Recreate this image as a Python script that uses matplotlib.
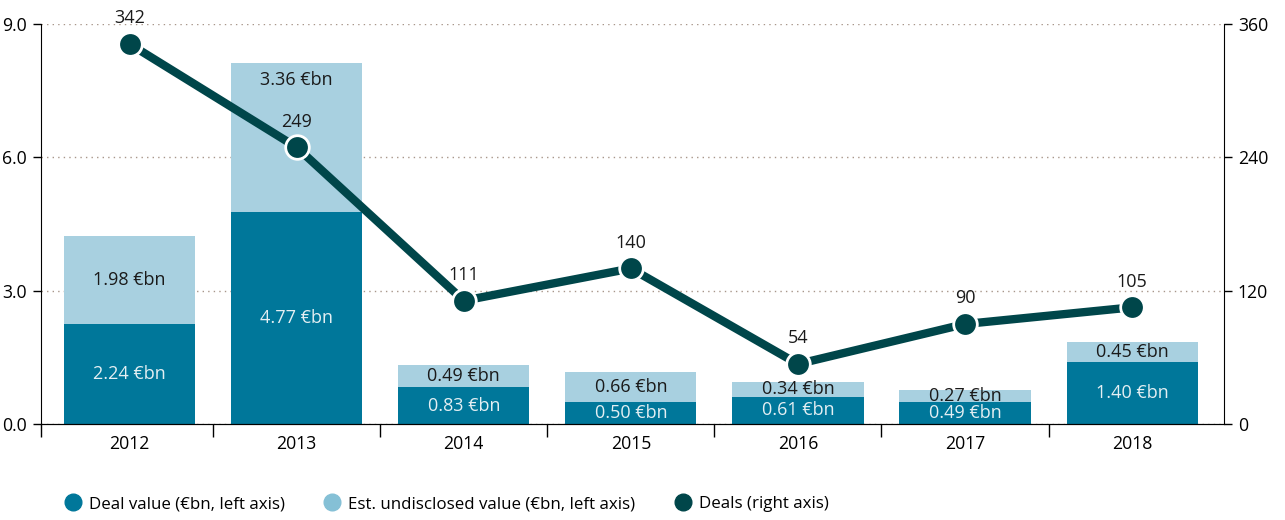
import matplotlib.pyplot as plt
import numpy as np
from matplotlib.lines import Line2D

plt.rcParams['font.family'] = ['Open Sans', 'DejaVu Sans']
plt.rcParams['font.size'] = 12.7

years = ['2012', '2013', '2014', '2015', '2016', '2017', '2018']
deal_value = [2.24, 4.77, 0.83, 0.50, 0.61, 0.49, 1.40]
undisclosed = [1.98, 3.36, 0.49, 0.66, 0.34, 0.27, 0.45]
deals = [342, 249, 111, 140, 54, 90, 105]

c_dark = '#00779a'
c_light = '#a8d0e0'
c_line = '#00464a'

fig = plt.figure(figsize=(12.85, 5.2), dpi=100)
ax = fig.add_axes([0.032, 0.1846, 0.9205, 0.7692])
x = np.arange(len(years))

ax.bar(x, deal_value, width=0.785, color=c_dark, zorder=2)
ax.bar(x, undisclosed, width=0.785, bottom=deal_value, color=c_light, zorder=2)

# 柱内数值标注
for i in range(len(years)):
    d = deal_value[i]
    u = undisclosed[i]
    ax.text(x[i], d / 2, '%.2f €bn' % d, ha='center', va='center',
            color='#e4eff3', fontsize=13, zorder=3)
    yu = d + u / 2
    if i == 1:
        yu = d + u - 0.4
    ax.text(x[i], yu, '%.2f €bn' % u, ha='center', va='center',
            color='#1a1a1a', fontsize=13, zorder=3)

ax.set_xlim(-0.53, 6.55)
ax.set_ylim(0, 9)
ax.set_yticks([0, 3, 6, 9])
ax.set_yticklabels(['0.0', '3.0', '6.0', '9.0'])
ax.set_xticks(x)
ax.set_xticklabels(years)
ax.set_xticks([-0.53] + list(x[:-1] + 0.5), minor=True)
ax.tick_params(axis='x', which='major', length=0, pad=8)
ax.tick_params(axis='x', which='minor', length=9, width=1)
ax.tick_params(axis='y', length=6, width=1, pad=4)
ax.yaxis.grid(True, linestyle=(0, (1, 3)), color='#a8968a', linewidth=1, zorder=0)
ax.set_axisbelow(True)
ax.spines['top'].set_visible(False)
ax.spines['right'].set_visible(False)

# 右轴：交易数量
ax2 = ax.twinx()
ax2.plot(x, deals, color=c_line, linewidth=6, marker='o', markersize=17,
         markerfacecolor=c_line, markeredgecolor='white', markeredgewidth=2,
         solid_capstyle='butt', zorder=5)
for i in range(len(years)):
    ax2.annotate(str(deals[i]), xy=(x[i], deals[i]), xytext=(0, 12),
                 textcoords='offset points', ha='center', va='bottom',
                 fontsize=13, color='#1a1a1a')
ax2.set_ylim(0, 360)
ax2.set_yticks([0, 120, 240, 360])
ax2.tick_params(axis='y', length=6, width=1, pad=4)
ax2.spines['top'].set_visible(False)
ax2.spines['left'].set_visible(False)

handles = [
    Line2D([], [], linestyle='none', marker='o', markersize=12, color=c_dark),
    Line2D([], [], linestyle='none', marker='o', markersize=12, color='#85c0d6'),
    Line2D([], [], linestyle='none', marker='o', markersize=12, color=c_line),
]
labels = ['Deal value (€bn, left axis)', 'Est. undisclosed value (€bn, left axis)',
          'Deals (right axis)']
fig.legend(handles, labels, loc='center left', bbox_to_anchor=(0.038, 0.03),
           ncol=3, frameon=False, handletextpad=0.45, columnspacing=2.3,
           handlelength=1.0, fontsize=12.2)

fig.savefig('out.png', dpi=100)
